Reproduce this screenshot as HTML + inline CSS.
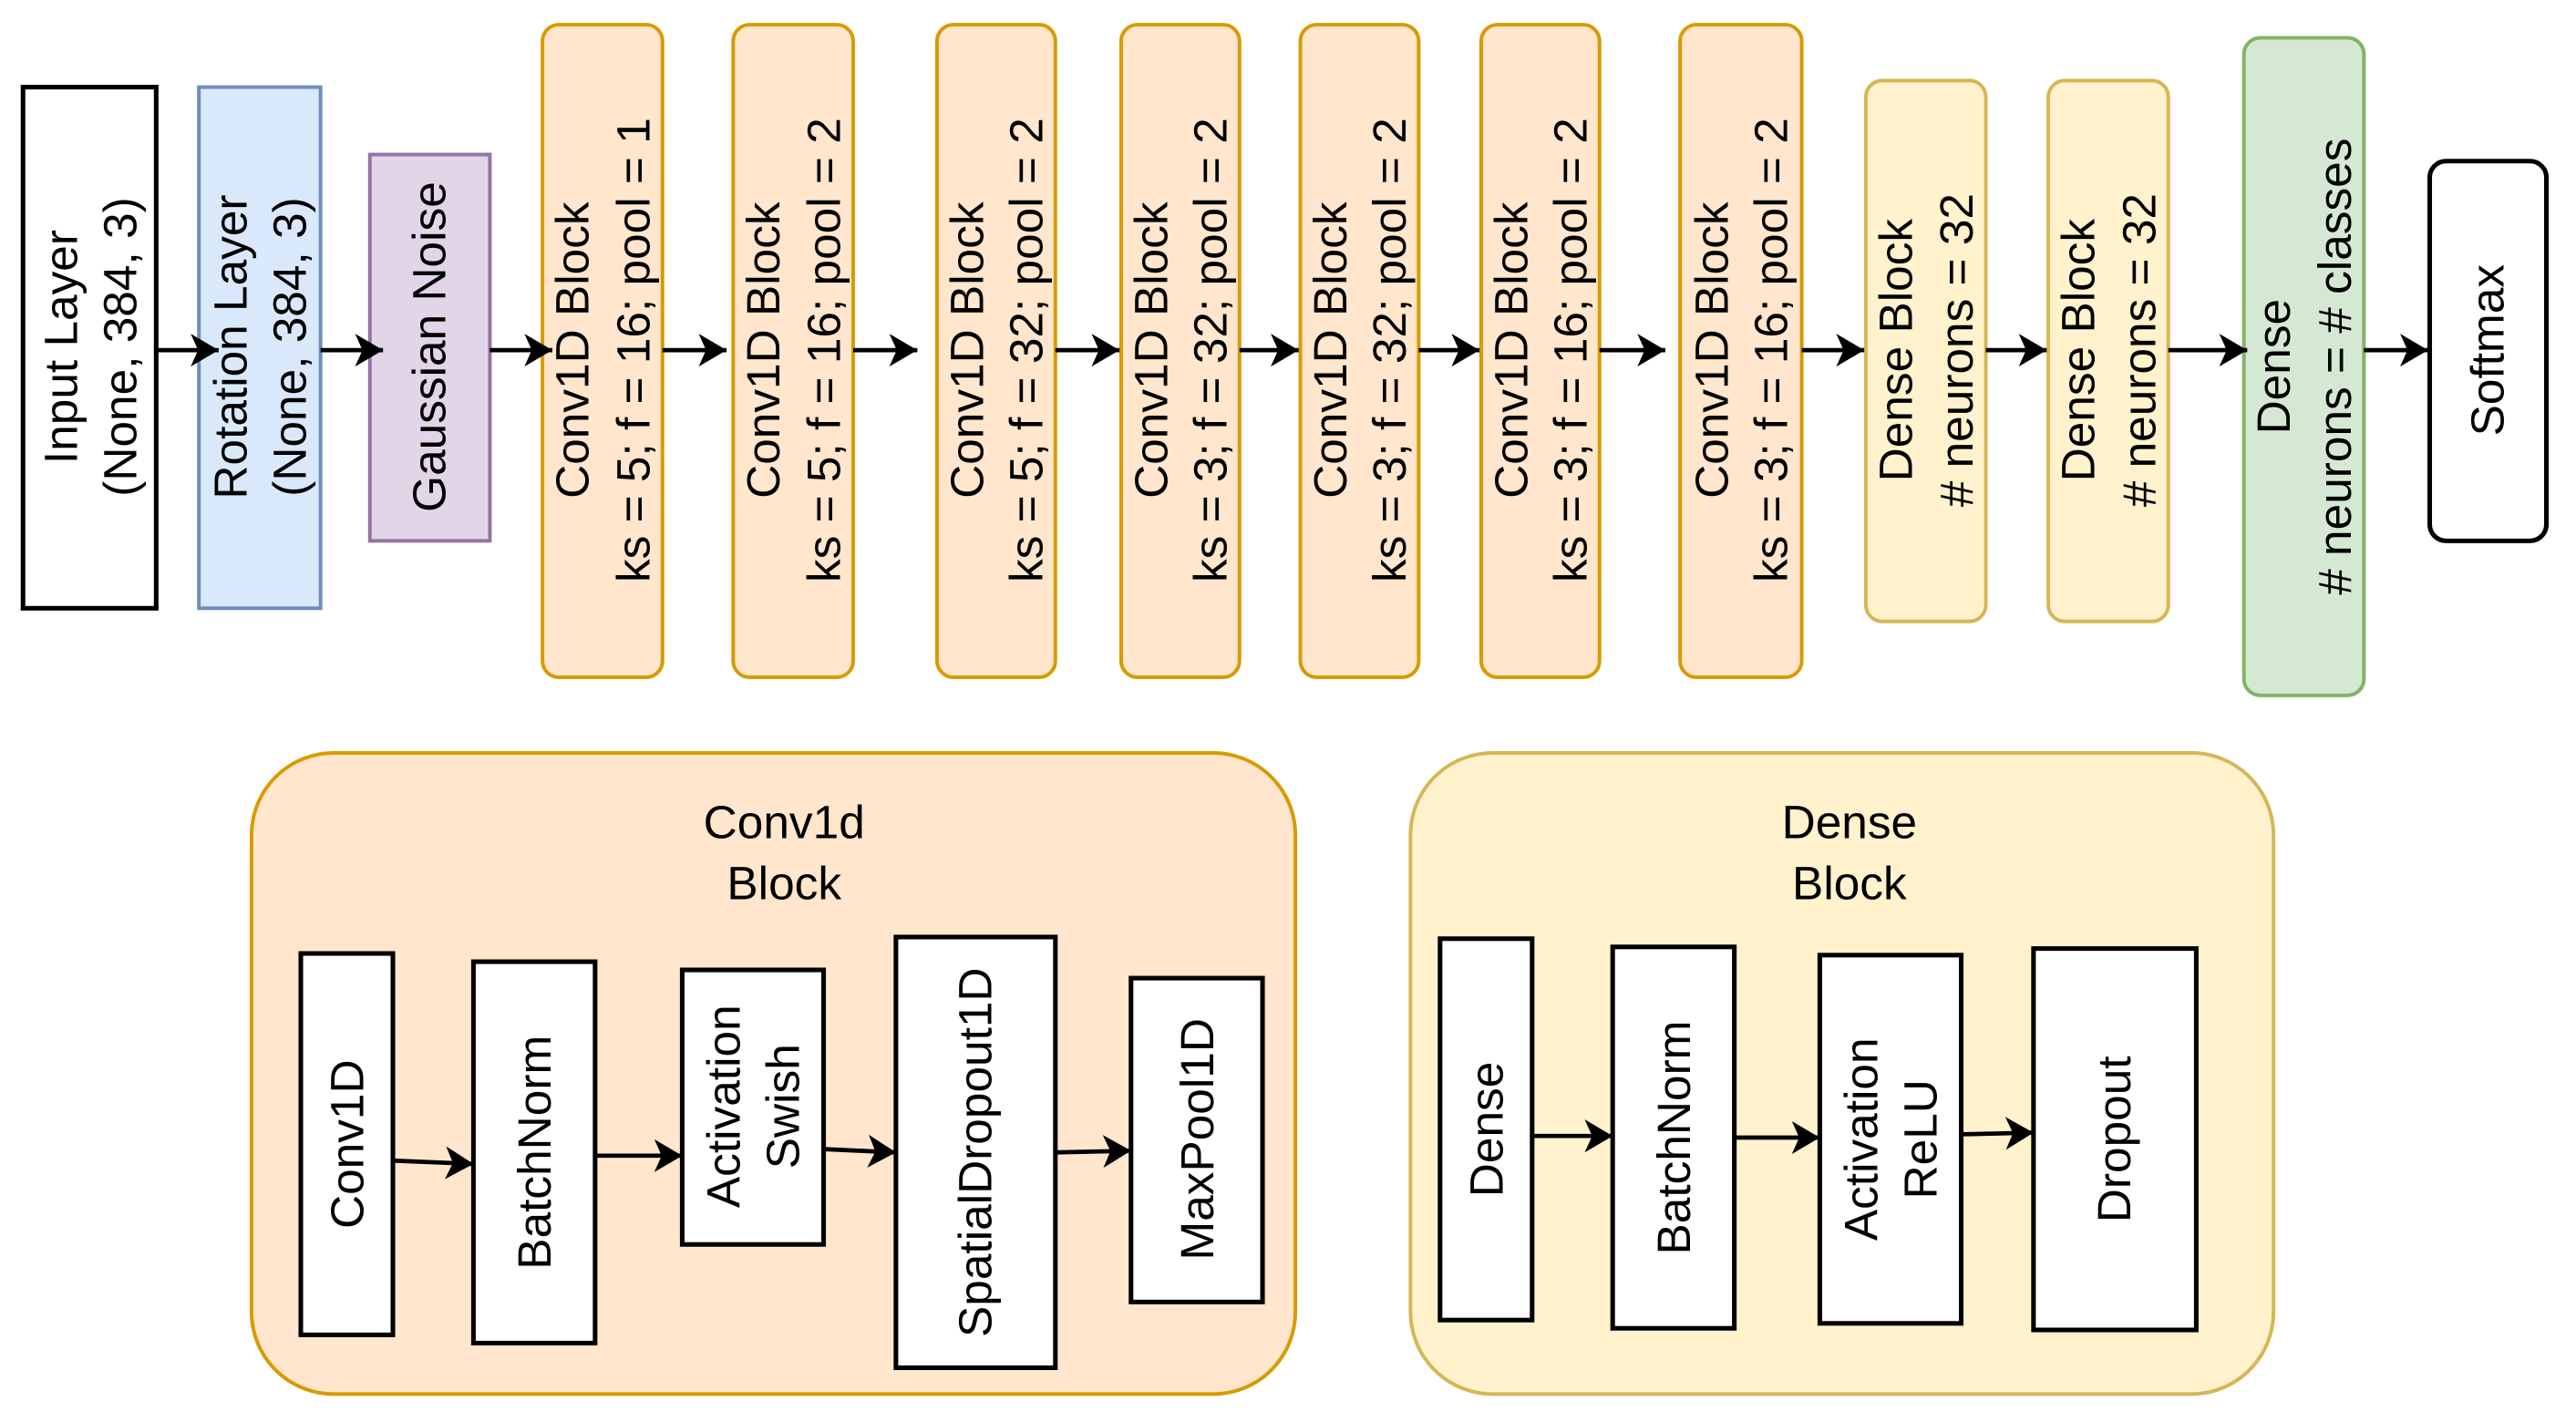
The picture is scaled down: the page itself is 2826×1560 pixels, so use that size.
<!DOCTYPE html>
<html><head><meta charset="utf-8"><style>
html,body{margin:0;padding:0;background:#fff;}
svg{display:block;}
text{font-family:"Liberation Sans",Arial,sans-serif;font-size:28.5px;fill:#000;}
</style></head><body>
<svg width="2826" height="1560" viewBox="0 0 1567 865" preserveAspectRatio="none" xmlns="http://www.w3.org/2000/svg">
<defs>
<marker id="a" markerUnits="userSpaceOnUse" markerWidth="22" markerHeight="22" refX="17" refY="10" orient="auto">
<path d="M0,0 L17,10 L0,20 L4.5,10 Z" fill="#000"/>
</marker>
</defs>
<g stroke-width="2.2">
<rect x="14" y="53" width="81" height="317" fill="#fff" stroke="#000" stroke-width="2.8"/>
<rect x="121" y="53" width="74" height="317" fill="#dae8fc" stroke="#6c8ebf"/>
<rect x="225" y="94" width="73" height="235" fill="#e1d5e7" stroke="#9673a6"/>
<g fill="#ffe6cc" stroke="#d79b00">
<rect x="330" y="15" width="73" height="397" rx="10"/>
<rect x="446" y="15" width="73" height="397" rx="10"/>
<rect x="570" y="15" width="72" height="397" rx="10"/>
<rect x="682" y="15" width="72" height="397" rx="10"/>
<rect x="791" y="15" width="72" height="397" rx="10"/>
<rect x="901" y="15" width="72" height="397" rx="10"/>
<rect x="1022" y="15" width="74" height="397" rx="10"/>
</g>
<g fill="#fff2cc" stroke="#d6b656">
<rect x="1135" y="49" width="73" height="329" rx="10"/>
<rect x="1246" y="49" width="73" height="329" rx="10"/>
</g>
<rect x="1365" y="23" width="73" height="400" rx="10" fill="#d5e8d4" stroke="#82b366"/>
<rect x="1478" y="98" width="71" height="231" rx="10" fill="#fff" stroke="#000" stroke-width="2.8"/>
<rect x="153" y="458" width="635" height="390" rx="50" fill="#ffe6cc" stroke="#d79b00"/>
<rect x="858" y="458" width="525" height="390" rx="50" fill="#fff2cc" stroke="#d6b656"/>
<g fill="#fff" stroke="#000" stroke-width="2.8">
<rect x="183" y="580" width="56" height="232"/>
<rect x="288" y="585" width="74" height="232"/>
<rect x="415" y="590" width="86" height="167"/>
<rect x="545" y="570" width="97" height="262"/>
<rect x="688" y="595" width="80" height="197"/>
<rect x="876" y="571" width="56" height="232"/>
<rect x="981" y="576" width="74" height="232"/>
<rect x="1107" y="581" width="86" height="224"/>
<rect x="1237" y="577" width="99" height="232"/>
</g>
</g>
<g stroke="#000" stroke-width="2.6" fill="none" marker-end="url(#a)">
<line x1="95" y1="213" x2="133" y2="213"/>
<line x1="195" y1="213" x2="233" y2="213"/>
<line x1="298" y1="213" x2="336" y2="213"/>
<line x1="403" y1="213" x2="442" y2="213"/>
<line x1="519" y1="213" x2="558" y2="213"/>
<line x1="642" y1="213" x2="681" y2="213"/>
<line x1="754" y1="213" x2="790" y2="213"/>
<line x1="863" y1="213" x2="900" y2="213"/>
<line x1="973" y1="213" x2="1013" y2="213"/>
<line x1="1096" y1="213" x2="1134" y2="213"/>
<line x1="1208" y1="213" x2="1245" y2="213"/>
<line x1="1319" y1="213" x2="1367" y2="213"/>
<line x1="1438" y1="213" x2="1477" y2="213"/>
<line x1="239" y1="706" x2="288" y2="708"/>
<line x1="362" y1="703" x2="415" y2="703"/>
<line x1="501" y1="699" x2="545" y2="701"/>
<line x1="642" y1="701" x2="688" y2="700"/>
<line x1="932" y1="691" x2="981" y2="691"/>
<line x1="1055" y1="692" x2="1107" y2="692"/>
<line x1="1193" y1="690" x2="1237" y2="689"/>
</g>
<g text-anchor="middle" dominant-baseline="central">
<text transform="translate(37,211) rotate(-90)">Input Layer</text>
<text transform="translate(73,211) rotate(-90)">(None, 384, 3)</text>
<text transform="translate(140,211) rotate(-90)">Rotation Layer</text>
<text transform="translate(176,211) rotate(-90)">(None, 384, 3)</text>
<text transform="translate(261,211) rotate(-90)">Gaussian Noise</text>
<text transform="translate(348,213) rotate(-90)">Conv1D Block</text>
<text transform="translate(385,213) rotate(-90)">ks = 5; f = 16; pool = 1</text>
<text transform="translate(464,213) rotate(-90)">Conv1D Block</text>
<text transform="translate(501,213) rotate(-90)">ks = 5; f = 16; pool = 2</text>
<text transform="translate(588,213) rotate(-90)">Conv1D Block</text>
<text transform="translate(624,213) rotate(-90)">ks = 5; f = 32; pool = 2</text>
<text transform="translate(700,213) rotate(-90)">Conv1D Block</text>
<text transform="translate(736,213) rotate(-90)">ks = 3; f = 32; pool = 2</text>
<text transform="translate(809,213) rotate(-90)">Conv1D Block</text>
<text transform="translate(845,213) rotate(-90)">ks = 3; f = 32; pool = 2</text>
<text transform="translate(919,213) rotate(-90)">Conv1D Block</text>
<text transform="translate(955,213) rotate(-90)">ks = 3; f = 16; pool = 2</text>
<text transform="translate(1041,213) rotate(-90)">Conv1D Block</text>
<text transform="translate(1077,213) rotate(-90)">ks = 3; f = 16; pool = 2</text>
<text transform="translate(1153,213) rotate(-90)">Dense Block</text>
<text transform="translate(1190,213) rotate(-90)"># neurons = 32</text>
<text transform="translate(1264,213) rotate(-90)">Dense Block</text>
<text transform="translate(1301,213) rotate(-90)"># neurons = 32</text>
<text transform="translate(1383,223) rotate(-90)">Dense</text>
<text transform="translate(1420,223) rotate(-90)"># neurons = # classes</text>
<text transform="translate(1513,213) rotate(-90)">Softmax</text>
<text x="477" y="500">Conv1d</text>
<text x="477" y="537">Block</text>
<text x="1125" y="500">Dense</text>
<text x="1125" y="537">Block</text>
<text transform="translate(211,696) rotate(-90)">Conv1D</text>
<text transform="translate(325,701) rotate(-90)">BatchNorm</text>
<text transform="translate(440,673) rotate(-90)">Activation</text>
<text transform="translate(476,673) rotate(-90)">Swish</text>
<text transform="translate(593,701) rotate(-90)">SpatialDropout1D</text>
<text transform="translate(728,693) rotate(-90)">MaxPool1D</text>
<text transform="translate(904,687) rotate(-90)">Dense</text>
<text transform="translate(1018,692) rotate(-90)">BatchNorm</text>
<text transform="translate(1132,693) rotate(-90)">Activation</text>
<text transform="translate(1168,693) rotate(-90)">ReLU</text>
<text transform="translate(1286,693) rotate(-90)">Dropout</text>
</g>
</svg>
</body></html>
